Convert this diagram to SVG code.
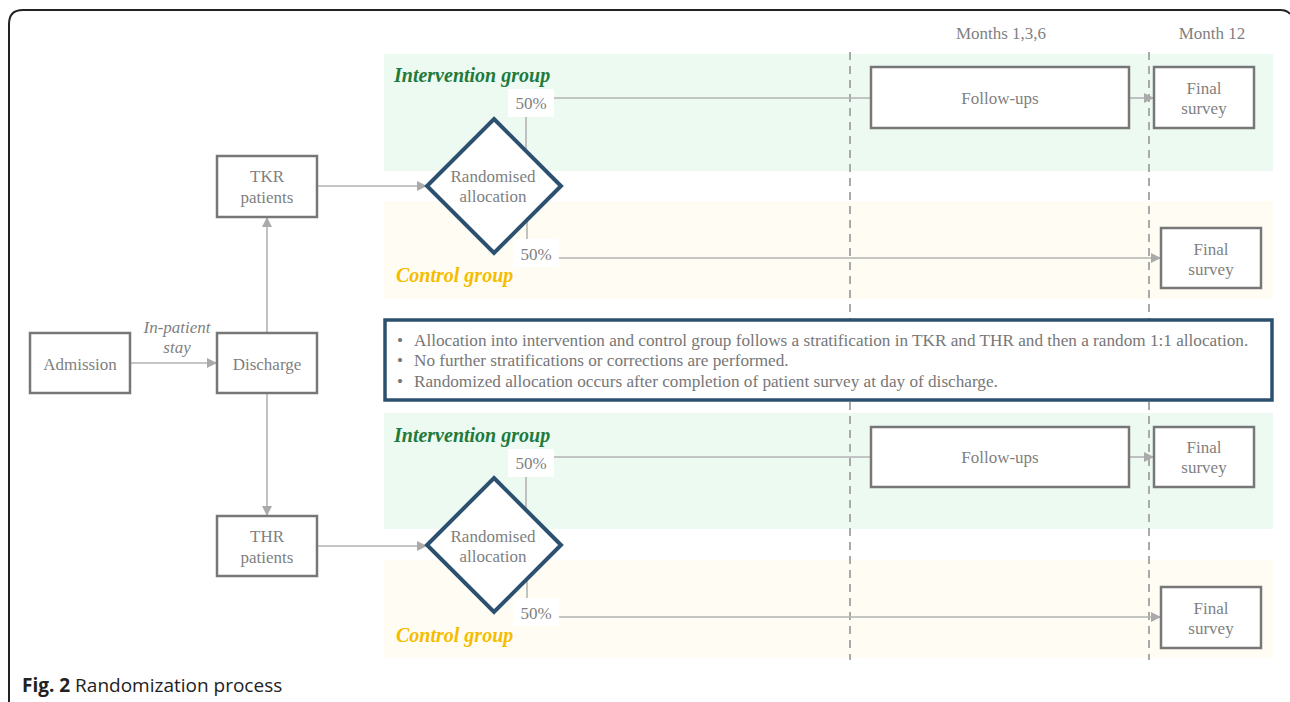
<svg xmlns="http://www.w3.org/2000/svg" width="1290" height="702" viewBox="0 0 1290 702">
<defs>
<marker id="arr" markerUnits="userSpaceOnUse" markerWidth="12" markerHeight="10" refX="10" refY="5" orient="auto">
<path d="M0,0 L10,5 L0,10 z" fill="#aaaaaa"/>
</marker>
<style>
.t{font-family:"Liberation Serif","Times New Roman",serif;font-size:17px;fill:#7f7f7f;text-anchor:middle}
.box{fill:#ffffff;stroke:#777777;stroke-width:2.5}
.dia{fill:#ffffff;stroke:#2c5170;stroke-width:4;stroke-linejoin:miter}
.ln{fill:none;stroke:#b3b3b3;stroke-width:1.6}
.dash{fill:none;stroke:#a9a9a9;stroke-width:2;stroke-dasharray:8 6}
.gi{font-family:"Liberation Serif","Times New Roman",serif;font-size:20px;font-weight:bold;font-style:italic;fill:#1f7a3c}
.ci{font-family:"Liberation Serif","Times New Roman",serif;font-size:20px;font-weight:bold;font-style:italic;fill:#f5bc00}
.info{font-family:"Liberation Serif","Times New Roman",serif;font-size:17.2px;fill:#777777}
.lab{fill:#ffffff}
</style>
</defs>
<rect x="0" y="0" width="1290" height="702" fill="#ffffff"/>
<path d="M9,702 L9,24 Q9,10 23,10 L1280,10 Q1287,10 1290,14" fill="none" stroke="#222222" stroke-width="2"/>

<g id="bands">
<rect x="384" y="54" width="889" height="117" fill="#edfaf2"/>
<rect x="384" y="201" width="889" height="98" fill="#fffcf3"/>
<rect x="384" y="413" width="889" height="116" fill="#edfaf2"/>
<rect x="384" y="560" width="889" height="98" fill="#fffcf3"/>
</g>

<g id="timeline">
<line class="dash" x1="850" y1="52" x2="850" y2="660"/>
<line class="dash" x1="1149" y1="52" x2="1149" y2="660"/>
<text class="t" x="1001" y="39">Months 1,3,6</text>
<text class="t" x="1212" y="39">Month 12</text>
</g>

<g id="group-labels">
<text class="gi" x="394" y="82">Intervention group</text>
<text class="ci" x="396" y="282">Control group</text>
<text class="gi" x="394" y="442">Intervention group</text>
<text class="ci" x="396" y="642">Control group</text>
</g>

<g id="connectors">
<line class="ln" x1="130" y1="363" x2="217" y2="363" marker-end="url(#arr)"/>
<line class="ln" x1="267" y1="333" x2="267" y2="217" marker-end="url(#arr)"/>
<line class="ln" x1="267" y1="393" x2="267" y2="516" marker-end="url(#arr)"/>
<line class="ln" x1="317" y1="186" x2="427" y2="186" marker-end="url(#arr)"/>
<line class="ln" x1="317" y1="546" x2="427" y2="546" marker-end="url(#arr)"/>
<polyline class="ln" points="526,150 526,98 871,98"/>
<line class="ln" x1="1129" y1="98" x2="1154" y2="98" marker-end="url(#arr)"/>
<polyline class="ln" points="527,214 527,258 1161,258" marker-end="url(#arr)"/>
<polyline class="ln" points="526,510 526,457 871,457"/>
<line class="ln" x1="1129" y1="457" x2="1154" y2="457" marker-end="url(#arr)"/>
<polyline class="ln" points="527,574 527,617 1161,617" marker-end="url(#arr)"/>
<text class="t" x="177" y="333" font-style="italic">In-patient</text>
<text class="t" x="177" y="353" font-style="italic">stay</text>
</g>

<g id="pct-labels">
<rect class="lab" x="508" y="89" width="46" height="28"/>
<text class="t" x="531" y="109">50%</text>
<rect class="lab" x="513" y="239" width="46" height="28"/>
<text class="t" x="536" y="260">50%</text>
<rect class="lab" x="508" y="449" width="46" height="28"/>
<text class="t" x="531" y="469">50%</text>
<rect class="lab" x="513" y="598" width="46" height="28"/>
<text class="t" x="536" y="619">50%</text>
</g>

<g id="admission">
<rect class="box" x="30" y="333" width="100" height="60"/>
<text class="t" x="80" y="370">Admission</text>
</g>
<g id="discharge">
<rect class="box" x="217" y="333" width="100" height="60"/>
<text class="t" x="267" y="370">Discharge</text>
</g>
<g id="tkr">
<rect class="box" x="217" y="156" width="100" height="61"/>
<text class="t" x="267" y="182">TKR</text>
<text class="t" x="267" y="203">patients</text>
</g>
<g id="thr">
<rect class="box" x="217" y="516" width="100" height="60"/>
<text class="t" x="267" y="542">THR</text>
<text class="t" x="267" y="563">patients</text>
</g>

<g id="rand1">
<polygon class="dia" points="494,119 561,186 494,253 427,186"/>
<text class="t" x="493" y="182">Randomised</text>
<text class="t" x="493" y="202">allocation</text>
</g>
<g id="rand2">
<polygon class="dia" points="494,478 561,545 494,612 427,545"/>
<text class="t" x="493" y="542">Randomised</text>
<text class="t" x="493" y="562">allocation</text>
</g>

<g id="followups1">
<rect class="box" x="871" y="67" width="258" height="61"/>
<text class="t" x="1000" y="104">Follow-ups</text>
</g>
<g id="final1">
<rect class="box" x="1154" y="67" width="100" height="61"/>
<text class="t" x="1204" y="94">Final</text>
<text class="t" x="1204" y="114">survey</text>
</g>
<g id="finalc1">
<rect class="box" x="1161" y="228" width="100" height="60"/>
<text class="t" x="1211" y="255">Final</text>
<text class="t" x="1211" y="275">survey</text>
</g>
<g id="followups2">
<rect class="box" x="871" y="427" width="258" height="60"/>
<text class="t" x="1000" y="463">Follow-ups</text>
</g>
<g id="final2">
<rect class="box" x="1154" y="427" width="100" height="60"/>
<text class="t" x="1204" y="453">Final</text>
<text class="t" x="1204" y="473">survey</text>
</g>
<g id="finalc2">
<rect class="box" x="1161" y="587" width="100" height="61"/>
<text class="t" x="1211" y="614">Final</text>
<text class="t" x="1211" y="634">survey</text>
</g>

<g id="info">
<rect x="385" y="320" width="887" height="80" fill="#ffffff" stroke="#2c5170" stroke-width="3.5"/>
<text class="info" x="397" y="346">•</text>
<text class="info" x="414" y="346">Allocation into intervention and control group follows a stratification in TKR and THR and then a random 1:1 allocation.</text>
<text class="info" x="397" y="366">•</text>
<text class="info" x="414" y="366">No further stratifications or corrections are performed.</text>
<text class="info" x="397" y="387">•</text>
<text class="info" x="414" y="387">Randomized allocation occurs after completion of patient survey at day of discharge.</text>
</g>

<g id="caption">
<text x="22" y="692" font-family="'Open Sans','Noto Sans',sans-serif" font-size="19" fill="#222222"><tspan font-weight="bold">Fig. 2</tspan> Randomization process</text>
</g>
</svg>
